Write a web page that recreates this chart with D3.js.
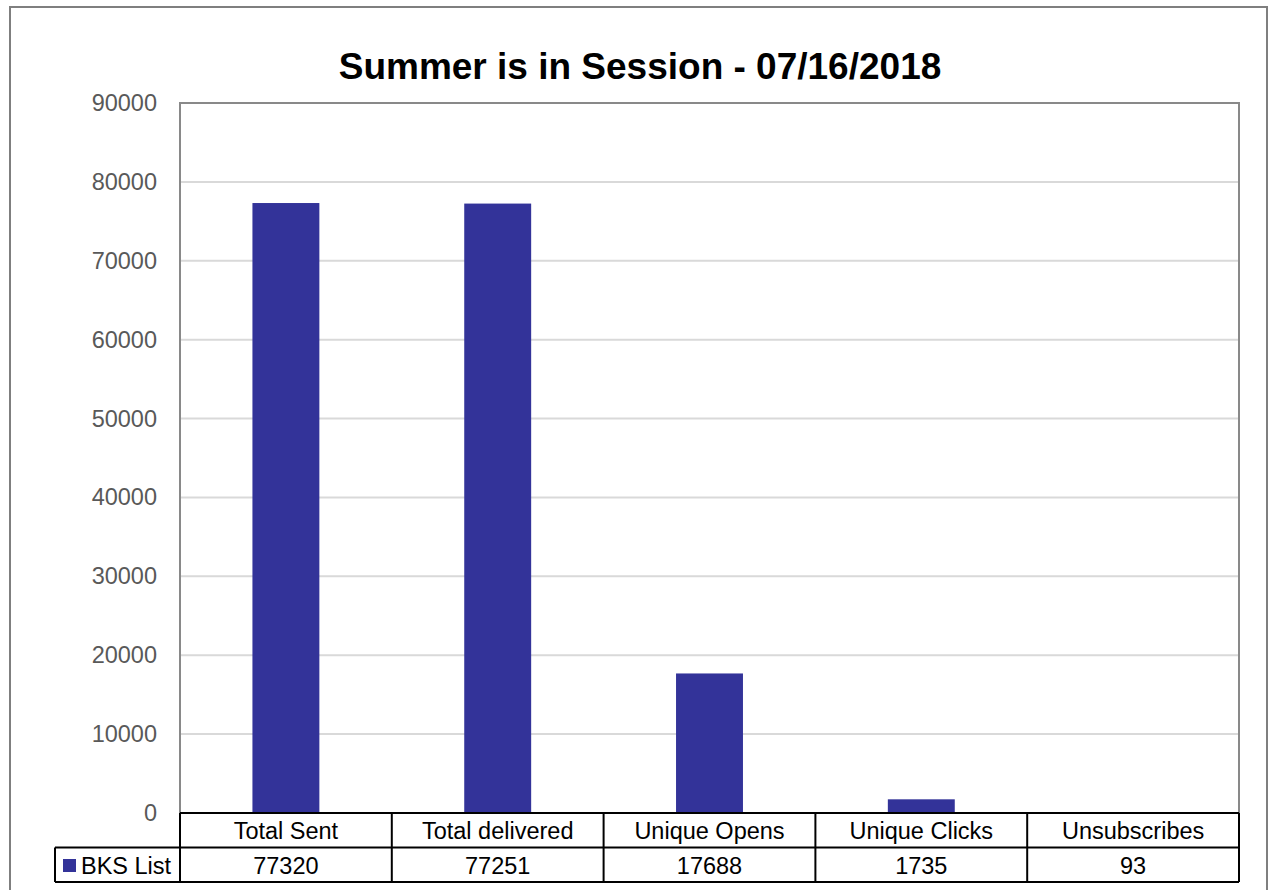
<!DOCTYPE html>
<html>
<head>
<meta charset="utf-8">
<script src="https://cdnjs.cloudflare.com/ajax/libs/d3/7.8.5/d3.min.js"></script>
<style>
  body { margin: 0; background: #fff; }
  text { font-family: "Liberation Sans", Arial, sans-serif; }
</style>
</head>
<body>
<div id="chart"></div>
<script>
// chart data
var categories = ["Total Sent", "Total delivered", "Unique Opens", "Unique Clicks", "Unsubscribes"];
var seriesName = "BKS List";
var values = [77320, 77251, 17688, 1735, 93];
var yTicks = [0, 10000, 20000, 30000, 40000, 50000, 60000, 70000, 80000, 90000];

var W = 1270, H = 890;
var plot = {left: 180, right: 1239, top: 103, bottom: 813};
var rowH = 34.5;
var barColor = "#333399";

var svg = d3.select("#chart").append("svg")
    .attr("width", W)
    .attr("height", H);

// outer chart border (bottom edge falls off the picture)
svg.append("rect")
    .attr("x", 10).attr("y", 7)
    .attr("width", 1257).attr("height", 900)
    .attr("fill", "#fff")
    .attr("stroke", "#7f7f7f")
    .attr("stroke-width", 2);

// title
svg.append("text")
    .attr("x", 640)
    .attr("y", 79)
    .attr("text-anchor", "middle")
    .style("font-size", "37px")
    .style("font-weight", "bold")
    .text("Summer is in Session - 07/16/2018");

var x = d3.scaleBand()
    .domain(categories)
    .range([plot.left, plot.right])
    .padding(0);

var y = d3.scaleLinear()
    .domain([0, 90000])
    .range([plot.bottom, plot.top]);

// gridlines
svg.append("g")
  .selectAll("line")
  .data(yTicks.slice(1, -1))
  .enter().append("line")
    .attr("x1", plot.left).attr("x2", plot.right)
    .attr("y1", function(d) { return y(d); })
    .attr("y2", function(d) { return y(d); })
    .attr("stroke", "#d9d9d9")
    .attr("stroke-width", 2);

// y axis labels
var yAxis = d3.axisLeft(y).tickValues(yTicks).tickSize(0).tickPadding(23).tickFormat(d3.format("d"));
var yg = svg.append("g")
    .attr("transform", "translate(" + plot.left + ",0)")
    .call(yAxis);
yg.select(".domain").remove();
yg.selectAll("text")
    .attr("fill", "#595959")
    .style("font-size", "23.5px")
    .style("font-family", "'Liberation Sans', Arial, sans-serif");

// plot area frame (top, left, right)
svg.append("path")
    .attr("d", "M" + plot.left + "," + plot.bottom + "V" + plot.top + "H" + plot.right + "V" + plot.bottom)
    .attr("fill", "none")
    .attr("stroke", "#898989")
    .attr("stroke-width", 2);

// bars
var barRatio = 0.316;
svg.selectAll(".bar")
    .data(values)
    .enter().append("rect")
    .attr("class", "bar")
    .attr("x", function(d, i) { return x(categories[i]) + x.bandwidth() * (1 - barRatio) / 2; })
    .attr("y", function(d) { return y(d); })
    .attr("width", x.bandwidth() * barRatio)
    .attr("height", function(d) { return plot.bottom - y(d); })
    .attr("fill", barColor);

// data table
var table = svg.append("g").attr("class", "table");
var legendLeft = 55;
var r1 = plot.bottom, r2 = plot.bottom + rowH, r3 = plot.bottom + 2 * rowH;

table.append("line")
    .attr("x1", plot.left).attr("x2", plot.right)
    .attr("y1", r1).attr("y2", r1);
table.append("line")
    .attr("x1", legendLeft).attr("x2", plot.right)
    .attr("y1", r2).attr("y2", r2);
table.append("line")
    .attr("x1", legendLeft).attr("x2", plot.right)
    .attr("y1", r3).attr("y2", r3);
table.append("line")
    .attr("x1", legendLeft).attr("x2", legendLeft)
    .attr("y1", r2).attr("y2", r3);
table.selectAll(".vline")
    .data(categories.concat(["end"]))
    .enter().append("line")
    .attr("class", "vline")
    .attr("x1", function(d, i) { return plot.left + i * x.step(); })
    .attr("x2", function(d, i) { return plot.left + i * x.step(); })
    .attr("y1", r1).attr("y2", r3);
table.selectAll("line")
    .attr("stroke", "#000")
    .attr("stroke-width", 2);

// category labels
table.selectAll(".cat")
    .data(categories)
    .enter().append("text")
    .attr("class", "cat")
    .attr("x", function(d) { return x(d) + x.bandwidth() / 2; })
    .attr("y", r1 + 25.5)
    .attr("text-anchor", "middle")
    .style("font-size", "23.5px")
    .text(function(d) { return d; });

// values
table.selectAll(".val")
    .data(values)
    .enter().append("text")
    .attr("class", "val")
    .attr("x", function(d, i) { return x(categories[i]) + x.bandwidth() / 2; })
    .attr("y", r2 + 26)
    .attr("text-anchor", "middle")
    .style("font-size", "23.5px")
    .text(function(d) { return d; });

// legend key
table.append("rect")
    .attr("x", 63).attr("y", 859)
    .attr("width", 13).attr("height", 13)
    .attr("fill", barColor);
table.append("text")
    .attr("x", 81)
    .attr("y", r2 + 26)
    .style("font-size", "23.5px")
    .text(seriesName);
</script>
</body>
</html>
